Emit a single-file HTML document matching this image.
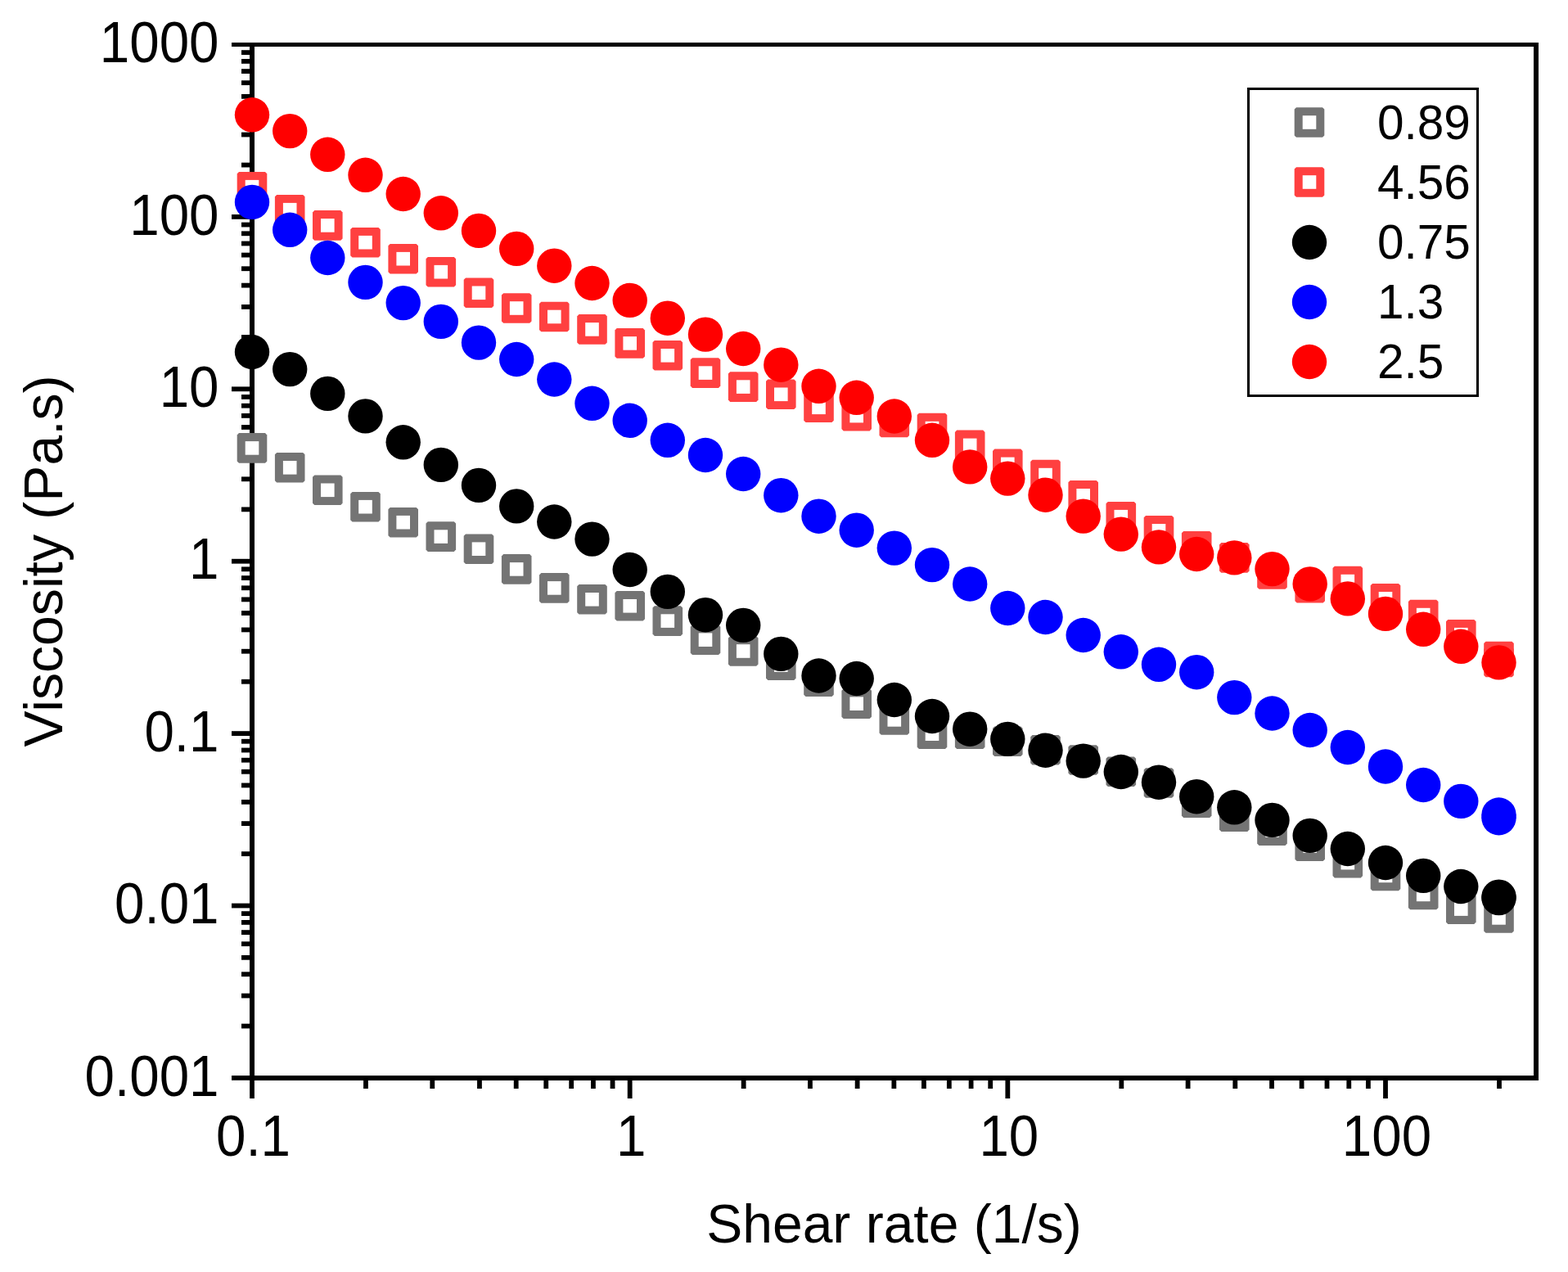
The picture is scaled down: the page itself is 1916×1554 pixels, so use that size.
<!DOCTYPE html><html><head><meta charset="utf-8"><title>Viscosity vs Shear rate</title><style>html,body{margin:0;padding:0;background:#fff;}svg{display:block;}</style></head><body><svg width="1916" height="1554" viewBox="0 0 1916 1554">
<rect x="0" y="0" width="1916" height="1554" fill="#fff"/>
<g fill="#000"><rect x="283" y="1314.00" width="24" height="5.8"/><rect x="295" y="1250.66" width="12" height="5.8"/><rect x="295" y="1213.61" width="12" height="5.8"/><rect x="295" y="1187.33" width="12" height="5.8"/><rect x="295" y="1166.94" width="12" height="5.8"/><rect x="295" y="1150.28" width="12" height="5.8"/><rect x="295" y="1136.19" width="12" height="5.8"/><rect x="295" y="1123.99" width="12" height="5.8"/><rect x="295" y="1113.23" width="12" height="5.8"/><rect x="283" y="1103.60" width="24" height="5.8"/><rect x="295" y="1040.26" width="12" height="5.8"/><rect x="295" y="1003.21" width="12" height="5.8"/><rect x="295" y="976.93" width="12" height="5.8"/><rect x="295" y="956.54" width="12" height="5.8"/><rect x="295" y="939.88" width="12" height="5.8"/><rect x="295" y="925.79" width="12" height="5.8"/><rect x="295" y="913.59" width="12" height="5.8"/><rect x="295" y="902.83" width="12" height="5.8"/><rect x="283" y="893.20" width="24" height="5.8"/><rect x="295" y="829.86" width="12" height="5.8"/><rect x="295" y="792.81" width="12" height="5.8"/><rect x="295" y="766.53" width="12" height="5.8"/><rect x="295" y="746.14" width="12" height="5.8"/><rect x="295" y="729.48" width="12" height="5.8"/><rect x="295" y="715.39" width="12" height="5.8"/><rect x="295" y="703.19" width="12" height="5.8"/><rect x="295" y="692.43" width="12" height="5.8"/><rect x="283" y="682.80" width="24" height="5.8"/><rect x="295" y="619.46" width="12" height="5.8"/><rect x="295" y="582.41" width="12" height="5.8"/><rect x="295" y="556.13" width="12" height="5.8"/><rect x="295" y="535.74" width="12" height="5.8"/><rect x="295" y="519.08" width="12" height="5.8"/><rect x="295" y="504.99" width="12" height="5.8"/><rect x="295" y="492.79" width="12" height="5.8"/><rect x="295" y="482.03" width="12" height="5.8"/><rect x="283" y="472.40" width="24" height="5.8"/><rect x="295" y="409.06" width="12" height="5.8"/><rect x="295" y="372.01" width="12" height="5.8"/><rect x="295" y="345.73" width="12" height="5.8"/><rect x="295" y="325.34" width="12" height="5.8"/><rect x="295" y="308.68" width="12" height="5.8"/><rect x="295" y="294.59" width="12" height="5.8"/><rect x="295" y="282.39" width="12" height="5.8"/><rect x="295" y="271.63" width="12" height="5.8"/><rect x="283" y="262.00" width="24" height="5.8"/><rect x="295" y="198.66" width="12" height="5.8"/><rect x="295" y="161.61" width="12" height="5.8"/><rect x="295" y="135.33" width="12" height="5.8"/><rect x="295" y="114.94" width="12" height="5.8"/><rect x="295" y="98.28" width="12" height="5.8"/><rect x="295" y="84.19" width="12" height="5.8"/><rect x="295" y="71.99" width="12" height="5.8"/><rect x="295" y="61.23" width="12" height="5.8"/><rect x="283" y="52" width="24" height="5"/><rect x="305.10" y="1316" width="5.8" height="26"/><rect x="444.08" y="1316" width="5.8" height="14"/><rect x="525.37" y="1316" width="5.8" height="14"/><rect x="583.05" y="1316" width="5.8" height="14"/><rect x="627.79" y="1316" width="5.8" height="14"/><rect x="664.35" y="1316" width="5.8" height="14"/><rect x="695.26" y="1316" width="5.8" height="14"/><rect x="722.03" y="1316" width="5.8" height="14"/><rect x="745.65" y="1316" width="5.8" height="14"/><rect x="766.77" y="1316" width="5.8" height="26"/><rect x="905.75" y="1316" width="5.8" height="14"/><rect x="987.04" y="1316" width="5.8" height="14"/><rect x="1044.72" y="1316" width="5.8" height="14"/><rect x="1089.46" y="1316" width="5.8" height="14"/><rect x="1126.02" y="1316" width="5.8" height="14"/><rect x="1156.93" y="1316" width="5.8" height="14"/><rect x="1183.70" y="1316" width="5.8" height="14"/><rect x="1207.32" y="1316" width="5.8" height="14"/><rect x="1228.44" y="1316" width="5.8" height="26"/><rect x="1367.42" y="1316" width="5.8" height="14"/><rect x="1448.71" y="1316" width="5.8" height="14"/><rect x="1506.39" y="1316" width="5.8" height="14"/><rect x="1551.13" y="1316" width="5.8" height="14"/><rect x="1587.69" y="1316" width="5.8" height="14"/><rect x="1618.60" y="1316" width="5.8" height="14"/><rect x="1645.37" y="1316" width="5.8" height="14"/><rect x="1668.99" y="1316" width="5.8" height="14"/><rect x="1690.11" y="1316" width="5.8" height="26"/><rect x="1829.09" y="1316" width="5.8" height="14"/></g>
<g fill="#000"><rect x="305" y="52" width="1575" height="5"/><rect x="305" y="1314" width="1575" height="6"/><rect x="305" y="52" width="6" height="1268"/><rect x="1874" y="52" width="6" height="1268"/></g>
<g><path d="M292.0,529.1H324.0L326.3,531.4V563.4L324.0,565.7H292.0L289.7,563.4V531.4Z" fill="#747474"/><rect x="299.7" y="539.1" width="16.6" height="16.6" fill="#fff"/><path d="M338.2,553.0H370.2L372.5,555.3V587.3L370.2,589.6H338.2L335.9,587.3V555.3Z" fill="#747474"/><rect x="345.9" y="563.0" width="16.6" height="16.6" fill="#fff"/><path d="M384.3,580.5H416.3L418.6,582.8V614.8L416.3,617.1H384.3L382.0,614.8V582.8Z" fill="#747474"/><rect x="392.0" y="590.5" width="16.6" height="16.6" fill="#fff"/><path d="M430.5,600.9H462.5L464.8,603.2V635.2L462.5,637.5H430.5L428.2,635.2V603.2Z" fill="#747474"/><rect x="438.2" y="610.9" width="16.6" height="16.6" fill="#fff"/><path d="M476.7,619.9H508.7L511.0,622.2V654.2L508.7,656.5H476.7L474.4,654.2V622.2Z" fill="#747474"/><rect x="484.4" y="629.9" width="16.6" height="16.6" fill="#fff"/><path d="M522.8,637.3H554.8L557.1,639.6V671.6L554.8,673.9H522.8L520.5,671.6V639.6Z" fill="#747474"/><rect x="530.5" y="647.3" width="16.6" height="16.6" fill="#fff"/><path d="M569.0,652.4H601.0L603.3,654.7V686.7L601.0,689.0H569.0L566.7,686.7V654.7Z" fill="#747474"/><rect x="576.7" y="662.4" width="16.6" height="16.6" fill="#fff"/><path d="M615.2,677.1H647.2L649.5,679.4V711.4L647.2,713.7H615.2L612.9,711.4V679.4Z" fill="#747474"/><rect x="622.9" y="687.1" width="16.6" height="16.6" fill="#fff"/><path d="M661.3,700.1H693.3L695.6,702.4V734.4L693.3,736.7H661.3L659.0,734.4V702.4Z" fill="#747474"/><rect x="669.0" y="710.1" width="16.6" height="16.6" fill="#fff"/><path d="M707.5,714.0H739.5L741.8,716.3V748.3L739.5,750.6H707.5L705.2,748.3V716.3Z" fill="#747474"/><rect x="715.2" y="724.0" width="16.6" height="16.6" fill="#fff"/><path d="M753.7,722.0H785.7L788.0,724.3V756.3L785.7,758.6H753.7L751.4,756.3V724.3Z" fill="#747474"/><rect x="761.4" y="732.0" width="16.6" height="16.6" fill="#fff"/><path d="M799.8,740.3H831.8L834.1,742.6V774.6L831.8,776.9H799.8L797.5,774.6V742.6Z" fill="#747474"/><rect x="807.5" y="750.3" width="16.6" height="16.6" fill="#fff"/><path d="M846.0,763.4H878.0L880.3,765.7V797.7L878.0,800.0H846.0L843.7,797.7V765.7Z" fill="#747474"/><rect x="853.7" y="773.4" width="16.6" height="16.6" fill="#fff"/><path d="M892.2,777.2H924.2L926.5,779.5V811.5L924.2,813.8H892.2L889.9,811.5V779.5Z" fill="#747474"/><rect x="899.9" y="787.2" width="16.6" height="16.6" fill="#fff"/><path d="M938.3,794.3H970.3L972.6,796.6V828.6L970.3,830.9H938.3L936.0,828.6V796.6Z" fill="#747474"/><rect x="946.0" y="804.3" width="16.6" height="16.6" fill="#fff"/><path d="M984.5,814.4H1016.5L1018.8,816.7V848.7L1016.5,851.0H984.5L982.2,848.7V816.7Z" fill="#747474"/><rect x="992.2" y="824.4" width="16.6" height="16.6" fill="#fff"/><path d="M1030.7,841.4H1062.7L1065.0,843.7V875.7L1062.7,878.0H1030.7L1028.4,875.7V843.7Z" fill="#747474"/><rect x="1038.4" y="851.4" width="16.6" height="16.6" fill="#fff"/><path d="M1076.8,861.1H1108.8L1111.1,863.4V895.4L1108.8,897.7H1076.8L1074.5,895.4V863.4Z" fill="#747474"/><rect x="1084.5" y="871.1" width="16.6" height="16.6" fill="#fff"/><path d="M1123.0,878.4H1155.0L1157.3,880.7V912.7L1155.0,915.0H1123.0L1120.7,912.7V880.7Z" fill="#747474"/><rect x="1130.7" y="888.4" width="16.6" height="16.6" fill="#fff"/><path d="M1169.2,878.4H1201.2L1203.5,880.7V912.7L1201.2,915.0H1169.2L1166.9,912.7V880.7Z" fill="#747474"/><rect x="1176.9" y="888.4" width="16.6" height="16.6" fill="#fff"/><path d="M1215.3,887.4H1247.3L1249.6,889.7V921.7L1247.3,924.0H1215.3L1213.0,921.7V889.7Z" fill="#747474"/><rect x="1223.0" y="897.4" width="16.6" height="16.6" fill="#fff"/><path d="M1261.5,897.9H1293.5L1295.8,900.2V932.2L1293.5,934.5H1261.5L1259.2,932.2V900.2Z" fill="#747474"/><rect x="1269.2" y="907.9" width="16.6" height="16.6" fill="#fff"/><path d="M1307.7,910.2H1339.7L1342.0,912.5V944.5L1339.7,946.8H1307.7L1305.4,944.5V912.5Z" fill="#747474"/><rect x="1315.4" y="920.2" width="16.6" height="16.6" fill="#fff"/><path d="M1353.8,924.5H1385.8L1388.1,926.8V958.8L1385.8,961.1H1353.8L1351.5,958.8V926.8Z" fill="#747474"/><rect x="1361.5" y="934.5" width="16.6" height="16.6" fill="#fff"/><path d="M1400.0,938.2H1432.0L1434.3,940.5V972.5L1432.0,974.8H1400.0L1397.7,972.5V940.5Z" fill="#747474"/><rect x="1407.7" y="948.2" width="16.6" height="16.6" fill="#fff"/><path d="M1446.2,962.3H1478.2L1480.5,964.6V996.6L1478.2,998.9H1446.2L1443.9,996.6V964.6Z" fill="#747474"/><rect x="1453.9" y="972.3" width="16.6" height="16.6" fill="#fff"/><path d="M1492.3,979.3H1524.3L1526.6,981.6V1013.6L1524.3,1015.9H1492.3L1490.0,1013.6V981.6Z" fill="#747474"/><rect x="1500.0" y="989.3" width="16.6" height="16.6" fill="#fff"/><path d="M1538.5,996.3H1570.5L1572.8,998.6V1030.6L1570.5,1032.9H1538.5L1536.2,1030.6V998.6Z" fill="#747474"/><rect x="1546.2" y="1006.3" width="16.6" height="16.6" fill="#fff"/><path d="M1584.7,1015.4H1616.7L1619.0,1017.7V1049.7L1616.7,1052.0H1584.7L1582.4,1049.7V1017.7Z" fill="#747474"/><rect x="1592.4" y="1025.4" width="16.6" height="16.6" fill="#fff"/><path d="M1630.8,1035.8H1662.8L1665.1,1038.1V1070.1L1662.8,1072.4H1630.8L1628.5,1070.1V1038.1Z" fill="#747474"/><rect x="1638.5" y="1045.8" width="16.6" height="16.6" fill="#fff"/><path d="M1677.0,1051.6H1709.0L1711.3,1053.9V1085.9L1709.0,1088.2H1677.0L1674.7,1085.9V1053.9Z" fill="#747474"/><rect x="1684.7" y="1061.6" width="16.6" height="16.6" fill="#fff"/><path d="M1723.2,1074.6H1755.2L1757.5,1076.9V1108.9L1755.2,1111.2H1723.2L1720.9,1108.9V1076.9Z" fill="#747474"/><rect x="1730.9" y="1084.6" width="16.6" height="16.6" fill="#fff"/><path d="M1769.3,1092.3H1801.3L1803.6,1094.6V1126.6L1801.3,1128.9H1769.3L1767.0,1126.6V1094.6Z" fill="#747474"/><rect x="1777.0" y="1102.3" width="16.6" height="16.6" fill="#fff"/><path d="M1815.5,1103.1H1847.5L1849.8,1105.4V1137.4L1847.5,1139.7H1815.5L1813.2,1137.4V1105.4Z" fill="#747474"/><rect x="1823.2" y="1113.1" width="16.6" height="16.6" fill="#fff"/><path d="M292.0,209.9H324.0L326.3,212.2V244.2L324.0,246.5H292.0L289.7,244.2V212.2Z" fill="#ff4040"/><rect x="299.7" y="219.9" width="16.6" height="16.6" fill="#fff"/><path d="M338.2,237.9H370.2L372.5,240.2V272.2L370.2,274.5H338.2L335.9,272.2V240.2Z" fill="#ff4040"/><rect x="345.9" y="247.9" width="16.6" height="16.6" fill="#fff"/><path d="M384.3,257.1H416.3L418.6,259.4V291.4L416.3,293.7H384.3L382.0,291.4V259.4Z" fill="#ff4040"/><rect x="392.0" y="267.1" width="16.6" height="16.6" fill="#fff"/><path d="M430.5,277.9H462.5L464.8,280.2V312.2L462.5,314.5H430.5L428.2,312.2V280.2Z" fill="#ff4040"/><rect x="438.2" y="287.9" width="16.6" height="16.6" fill="#fff"/><path d="M476.7,297.9H508.7L511.0,300.2V332.2L508.7,334.5H476.7L474.4,332.2V300.2Z" fill="#ff4040"/><rect x="484.4" y="307.9" width="16.6" height="16.6" fill="#fff"/><path d="M522.8,313.9H554.8L557.1,316.2V348.2L554.8,350.5H522.8L520.5,348.2V316.2Z" fill="#ff4040"/><rect x="530.5" y="323.9" width="16.6" height="16.6" fill="#fff"/><path d="M569.0,339.5H601.0L603.3,341.8V373.8L601.0,376.1H569.0L566.7,373.8V341.8Z" fill="#ff4040"/><rect x="576.7" y="349.5" width="16.6" height="16.6" fill="#fff"/><path d="M615.2,358.2H647.2L649.5,360.5V392.5L647.2,394.8H615.2L612.9,392.5V360.5Z" fill="#ff4040"/><rect x="622.9" y="368.2" width="16.6" height="16.6" fill="#fff"/><path d="M661.3,368.7H693.3L695.6,371.0V403.0L693.3,405.3H661.3L659.0,403.0V371.0Z" fill="#ff4040"/><rect x="669.0" y="378.7" width="16.6" height="16.6" fill="#fff"/><path d="M707.5,384.1H739.5L741.8,386.4V418.4L739.5,420.7H707.5L705.2,418.4V386.4Z" fill="#ff4040"/><rect x="715.2" y="394.1" width="16.6" height="16.6" fill="#fff"/><path d="M753.7,401.1H785.7L788.0,403.4V435.4L785.7,437.7H753.7L751.4,435.4V403.4Z" fill="#ff4040"/><rect x="761.4" y="411.1" width="16.6" height="16.6" fill="#fff"/><path d="M799.8,416.0H831.8L834.1,418.3V450.3L831.8,452.6H799.8L797.5,450.3V418.3Z" fill="#ff4040"/><rect x="807.5" y="426.0" width="16.6" height="16.6" fill="#fff"/><path d="M846.0,437.3H878.0L880.3,439.6V471.6L878.0,473.9H846.0L843.7,471.6V439.6Z" fill="#ff4040"/><rect x="853.7" y="447.3" width="16.6" height="16.6" fill="#fff"/><path d="M892.2,454.3H924.2L926.5,456.6V488.6L924.2,490.9H892.2L889.9,488.6V456.6Z" fill="#ff4040"/><rect x="899.9" y="464.3" width="16.6" height="16.6" fill="#fff"/><path d="M938.3,463.5H970.3L972.6,465.8V497.8L970.3,500.1H938.3L936.0,497.8V465.8Z" fill="#ff4040"/><rect x="946.0" y="473.5" width="16.6" height="16.6" fill="#fff"/><path d="M984.5,479.5H1016.5L1018.8,481.8V513.8L1016.5,516.1H984.5L982.2,513.8V481.8Z" fill="#ff4040"/><rect x="992.2" y="489.5" width="16.6" height="16.6" fill="#fff"/><path d="M1030.7,489.8H1062.7L1065.0,492.1V524.1L1062.7,526.4H1030.7L1028.4,524.1V492.1Z" fill="#ff4040"/><rect x="1038.4" y="499.8" width="16.6" height="16.6" fill="#fff"/><path d="M1076.8,497.6H1108.8L1111.1,499.9V531.9L1108.8,534.2H1076.8L1074.5,531.9V499.9Z" fill="#ff4040"/><rect x="1084.5" y="507.6" width="16.6" height="16.6" fill="#fff"/><path d="M1123.0,504.8H1155.0L1157.3,507.1V539.1L1155.0,541.4H1123.0L1120.7,539.1V507.1Z" fill="#ff4040"/><rect x="1130.7" y="514.8" width="16.6" height="16.6" fill="#fff"/><path d="M1169.2,525.6H1201.2L1203.5,527.9V559.9L1201.2,562.2H1169.2L1166.9,559.9V527.9Z" fill="#ff4040"/><rect x="1176.9" y="535.6" width="16.6" height="16.6" fill="#fff"/><path d="M1215.3,548.6H1247.3L1249.6,550.9V582.9L1247.3,585.2H1215.3L1213.0,582.9V550.9Z" fill="#ff4040"/><rect x="1223.0" y="558.6" width="16.6" height="16.6" fill="#fff"/><path d="M1261.5,561.8H1293.5L1295.8,564.1V596.1L1293.5,598.4H1261.5L1259.2,596.1V564.1Z" fill="#ff4040"/><rect x="1269.2" y="571.8" width="16.6" height="16.6" fill="#fff"/><path d="M1307.7,587.0H1339.7L1342.0,589.3V621.3L1339.7,623.6H1307.7L1305.4,621.3V589.3Z" fill="#ff4040"/><rect x="1315.4" y="597.0" width="16.6" height="16.6" fill="#fff"/><path d="M1353.8,612.9H1385.8L1388.1,615.2V647.2L1385.8,649.5H1353.8L1351.5,647.2V615.2Z" fill="#ff4040"/><rect x="1361.5" y="622.9" width="16.6" height="16.6" fill="#fff"/><path d="M1400.0,630.0H1432.0L1434.3,632.3V664.3L1432.0,666.6H1400.0L1397.7,664.3V632.3Z" fill="#ff4040"/><rect x="1407.7" y="640.0" width="16.6" height="16.6" fill="#fff"/><path d="M1446.2,649.0H1478.2L1480.5,651.3V683.3L1478.2,685.6H1446.2L1443.9,683.3V651.3Z" fill="#ff4040"/><rect x="1453.9" y="659.0" width="16.6" height="16.6" fill="#fff"/><path d="M1492.3,663.1H1524.3L1526.6,665.4V697.4L1524.3,699.7H1492.3L1490.0,697.4V665.4Z" fill="#ff4040"/><rect x="1500.0" y="673.1" width="16.6" height="16.6" fill="#fff"/><path d="M1538.5,683.2H1570.5L1572.8,685.5V717.5L1570.5,719.8H1538.5L1536.2,717.5V685.5Z" fill="#ff4040"/><rect x="1546.2" y="693.2" width="16.6" height="16.6" fill="#fff"/><path d="M1584.7,700.0H1616.7L1619.0,702.3V734.3L1616.7,736.6H1584.7L1582.4,734.3V702.3Z" fill="#ff4040"/><rect x="1592.4" y="710.0" width="16.6" height="16.6" fill="#fff"/><path d="M1630.8,691.8H1662.8L1665.1,694.1V726.1L1662.8,728.4H1630.8L1628.5,726.1V694.1Z" fill="#ff4040"/><rect x="1638.5" y="701.8" width="16.6" height="16.6" fill="#fff"/><path d="M1677.0,713.0H1709.0L1711.3,715.3V747.3L1709.0,749.6H1677.0L1674.7,747.3V715.3Z" fill="#ff4040"/><rect x="1684.7" y="723.0" width="16.6" height="16.6" fill="#fff"/><path d="M1723.2,732.8H1755.2L1757.5,735.1V767.1L1755.2,769.4H1723.2L1720.9,767.1V735.1Z" fill="#ff4040"/><rect x="1730.9" y="742.8" width="16.6" height="16.6" fill="#fff"/><path d="M1769.3,756.9H1801.3L1803.6,759.2V791.2L1801.3,793.5H1769.3L1767.0,791.2V759.2Z" fill="#ff4040"/><rect x="1777.0" y="766.9" width="16.6" height="16.6" fill="#fff"/><path d="M1815.5,783.7H1847.5L1849.8,786.0V818.0L1847.5,820.3H1815.5L1813.2,818.0V786.0Z" fill="#ff4040"/><rect x="1823.2" y="793.7" width="16.6" height="16.6" fill="#fff"/><path d="M1815.5,790.7H1847.5L1849.8,793.0V825.0L1847.5,827.3H1815.5L1813.2,825.0V793.0Z" fill="#ff4040"/><rect x="1823.2" y="800.7" width="16.6" height="16.6" fill="#fff"/><circle cx="308.0" cy="430.0" r="21.2" fill="#000"/><circle cx="354.2" cy="451.1" r="21.2" fill="#000"/><circle cx="400.3" cy="480.9" r="21.2" fill="#000"/><circle cx="446.5" cy="508.4" r="21.2" fill="#000"/><circle cx="492.7" cy="540.3" r="21.2" fill="#000"/><circle cx="538.8" cy="567.9" r="21.2" fill="#000"/><circle cx="585.0" cy="592.9" r="21.2" fill="#000"/><circle cx="631.2" cy="618.4" r="21.2" fill="#000"/><circle cx="677.3" cy="637.5" r="21.2" fill="#000"/><circle cx="723.5" cy="658.6" r="21.2" fill="#000"/><circle cx="769.7" cy="696.0" r="21.2" fill="#000"/><circle cx="815.8" cy="722.9" r="21.2" fill="#000"/><circle cx="862.0" cy="751.2" r="21.2" fill="#000"/><circle cx="908.2" cy="763.9" r="21.2" fill="#000"/><circle cx="954.3" cy="798.9" r="21.2" fill="#000"/><circle cx="1000.5" cy="825.5" r="21.2" fill="#000"/><circle cx="1046.7" cy="829.0" r="21.2" fill="#000"/><circle cx="1092.8" cy="855.0" r="21.2" fill="#000"/><circle cx="1139.0" cy="875.0" r="21.2" fill="#000"/><circle cx="1185.2" cy="890.7" r="21.2" fill="#000"/><circle cx="1231.3" cy="902.9" r="21.2" fill="#000"/><circle cx="1277.5" cy="916.7" r="21.2" fill="#000"/><circle cx="1323.7" cy="929.6" r="21.2" fill="#000"/><circle cx="1369.8" cy="943.0" r="21.2" fill="#000"/><circle cx="1416.0" cy="955.7" r="21.2" fill="#000"/><circle cx="1462.2" cy="973.2" r="21.2" fill="#000"/><circle cx="1508.3" cy="986.3" r="21.2" fill="#000"/><circle cx="1554.5" cy="1001.9" r="21.2" fill="#000"/><circle cx="1600.7" cy="1020.9" r="21.2" fill="#000"/><circle cx="1646.8" cy="1037.0" r="21.2" fill="#000"/><circle cx="1693.0" cy="1054.0" r="21.2" fill="#000"/><circle cx="1739.2" cy="1069.9" r="21.2" fill="#000"/><circle cx="1785.3" cy="1083.0" r="21.2" fill="#000"/><circle cx="1831.5" cy="1095.7" r="21.2" fill="#000"/><circle cx="1831.5" cy="1097.1" r="21.2" fill="#000"/><circle cx="308.0" cy="246.9" r="21.2" fill="#0000ff"/><circle cx="354.2" cy="280.8" r="21.2" fill="#0000ff"/><circle cx="400.3" cy="315.0" r="21.2" fill="#0000ff"/><circle cx="446.5" cy="344.9" r="21.2" fill="#0000ff"/><circle cx="492.7" cy="370.1" r="21.2" fill="#0000ff"/><circle cx="538.8" cy="392.9" r="21.2" fill="#0000ff"/><circle cx="585.0" cy="418.6" r="21.2" fill="#0000ff"/><circle cx="631.2" cy="439.0" r="21.2" fill="#0000ff"/><circle cx="677.3" cy="463.5" r="21.2" fill="#0000ff"/><circle cx="723.5" cy="492.8" r="21.2" fill="#0000ff"/><circle cx="769.7" cy="513.8" r="21.2" fill="#0000ff"/><circle cx="815.8" cy="537.8" r="21.2" fill="#0000ff"/><circle cx="862.0" cy="556.0" r="21.2" fill="#0000ff"/><circle cx="908.2" cy="579.0" r="21.2" fill="#0000ff"/><circle cx="954.3" cy="605.2" r="21.2" fill="#0000ff"/><circle cx="1000.5" cy="630.7" r="21.2" fill="#0000ff"/><circle cx="1046.7" cy="647.7" r="21.2" fill="#0000ff"/><circle cx="1092.8" cy="669.6" r="21.2" fill="#0000ff"/><circle cx="1139.0" cy="690.1" r="21.2" fill="#0000ff"/><circle cx="1185.2" cy="713.5" r="21.2" fill="#0000ff"/><circle cx="1231.3" cy="743.0" r="21.2" fill="#0000ff"/><circle cx="1277.5" cy="754.0" r="21.2" fill="#0000ff"/><circle cx="1323.7" cy="776.0" r="21.2" fill="#0000ff"/><circle cx="1369.8" cy="796.3" r="21.2" fill="#0000ff"/><circle cx="1416.0" cy="811.8" r="21.2" fill="#0000ff"/><circle cx="1462.2" cy="821.2" r="21.2" fill="#0000ff"/><circle cx="1508.3" cy="852.1" r="21.2" fill="#0000ff"/><circle cx="1554.5" cy="871.5" r="21.2" fill="#0000ff"/><circle cx="1600.7" cy="892.0" r="21.2" fill="#0000ff"/><circle cx="1646.8" cy="913.0" r="21.2" fill="#0000ff"/><circle cx="1693.0" cy="936.5" r="21.2" fill="#0000ff"/><circle cx="1739.2" cy="959.0" r="21.2" fill="#0000ff"/><circle cx="1785.3" cy="978.9" r="21.2" fill="#0000ff"/><circle cx="1831.5" cy="995.5" r="21.2" fill="#0000ff"/><circle cx="1831.5" cy="999.2" r="21.2" fill="#0000ff"/><circle cx="308.0" cy="140.3" r="21.2" fill="#ff0000"/><circle cx="354.2" cy="160.1" r="21.2" fill="#ff0000"/><circle cx="400.3" cy="188.8" r="21.2" fill="#ff0000"/><circle cx="446.5" cy="213.8" r="21.2" fill="#ff0000"/><circle cx="492.7" cy="237.0" r="21.2" fill="#ff0000"/><circle cx="538.8" cy="260.3" r="21.2" fill="#ff0000"/><circle cx="585.0" cy="281.9" r="21.2" fill="#ff0000"/><circle cx="631.2" cy="303.9" r="21.2" fill="#ff0000"/><circle cx="677.3" cy="324.7" r="21.2" fill="#ff0000"/><circle cx="723.5" cy="346.0" r="21.2" fill="#ff0000"/><circle cx="769.7" cy="366.9" r="21.2" fill="#ff0000"/><circle cx="815.8" cy="388.7" r="21.2" fill="#ff0000"/><circle cx="862.0" cy="408.6" r="21.2" fill="#ff0000"/><circle cx="908.2" cy="426.0" r="21.2" fill="#ff0000"/><circle cx="954.3" cy="445.7" r="21.2" fill="#ff0000"/><circle cx="1000.5" cy="471.8" r="21.2" fill="#ff0000"/><circle cx="1046.7" cy="485.8" r="21.2" fill="#ff0000"/><circle cx="1092.8" cy="508.5" r="21.2" fill="#ff0000"/><circle cx="1139.0" cy="537.8" r="21.2" fill="#ff0000"/><circle cx="1185.2" cy="570.4" r="21.2" fill="#ff0000"/><circle cx="1231.3" cy="584.6" r="21.2" fill="#ff0000"/><circle cx="1277.5" cy="604.7" r="21.2" fill="#ff0000"/><circle cx="1323.7" cy="630.6" r="21.2" fill="#ff0000"/><circle cx="1369.8" cy="652.6" r="21.2" fill="#ff0000"/><circle cx="1416.0" cy="668.4" r="21.2" fill="#ff0000"/><circle cx="1462.2" cy="677.0" r="21.2" fill="#ff0000"/><circle cx="1508.3" cy="681.4" r="21.2" fill="#ff0000"/><circle cx="1554.5" cy="695.1" r="21.2" fill="#ff0000"/><circle cx="1600.7" cy="713.4" r="21.2" fill="#ff0000"/><circle cx="1646.8" cy="731.4" r="21.2" fill="#ff0000"/><circle cx="1693.0" cy="749.9" r="21.2" fill="#ff0000"/><circle cx="1739.2" cy="768.8" r="21.2" fill="#ff0000"/><circle cx="1785.3" cy="789.8" r="21.2" fill="#ff0000"/><circle cx="1831.5" cy="809.4" r="21.2" fill="#ff0000"/></g>
<g font-family="Liberation Sans, sans-serif" fill="#000"><rect x="1525.5" y="108.5" width="280" height="375" fill="none" stroke="#000" stroke-width="3"/><path d="M1584.0,131.2H1616.0L1618.3,133.5V165.5L1616.0,167.8H1584.0L1581.7,165.5V133.5Z" fill="#747474"/><rect x="1591.7" y="141.2" width="16.6" height="16.6" fill="#fff"/><path d="M1584.0,204.2H1616.0L1618.3,206.5V238.5L1616.0,240.8H1584.0L1581.7,238.5V206.5Z" fill="#ff4040"/><rect x="1591.7" y="214.2" width="16.6" height="16.6" fill="#fff"/><circle cx="1600.0" cy="296.0" r="21.2" fill="#000"/><circle cx="1600.0" cy="369.0" r="21.2" fill="#0000ff"/><circle cx="1600.0" cy="442.0" r="21.2" fill="#ff0000"/><text x="1683" y="169.5" font-size="58.5">0.89</text><text x="1683" y="242.5" font-size="58.5">4.56</text><text x="1683" y="316.0" font-size="58.5">0.75</text><text x="1683" y="389.0" font-size="58.5">1.3</text><text x="1683" y="462.0" font-size="58.5">2.5</text></g>
<g font-family="Liberation Sans, sans-serif" font-size="65.5" fill="#000"><text transform="translate(267.5,76.1) scale(1,1.07)" text-anchor="end">1000</text><text transform="translate(267.5,286.5) scale(1,1.07)" text-anchor="end">100</text><text transform="translate(267.5,496.9) scale(1,1.07)" text-anchor="end">10</text><text transform="translate(267.5,707.3) scale(1,1.07)" text-anchor="end">1</text><text transform="translate(267.5,917.7) scale(1,1.07)" text-anchor="end">0.1</text><text transform="translate(267.5,1128.1) scale(1,1.07)" text-anchor="end">0.01</text><text transform="translate(267.5,1338.5) scale(1,1.07)" text-anchor="end">0.001</text><text transform="translate(309.5,1412.4) scale(1,1.07)" text-anchor="middle">0.1</text><text transform="translate(771.2,1412.4) scale(1,1.07)" text-anchor="middle">1</text><text transform="translate(1232.8,1412.4) scale(1,1.07)" text-anchor="middle">10</text><text transform="translate(1694.5,1412.4) scale(1,1.07)" text-anchor="middle">100</text></g>
<text x="1092.5" y="1517.8" text-anchor="middle" font-family="Liberation Sans, sans-serif" font-size="66" fill="#000">Shear rate (1/s)</text>
<text transform="translate(75.6,685.5) rotate(-90)" x="0" y="0" text-anchor="middle" font-family="Liberation Sans, sans-serif" font-size="66.1" fill="#000">Viscosity (Pa.s)</text>
</svg></body></html>
